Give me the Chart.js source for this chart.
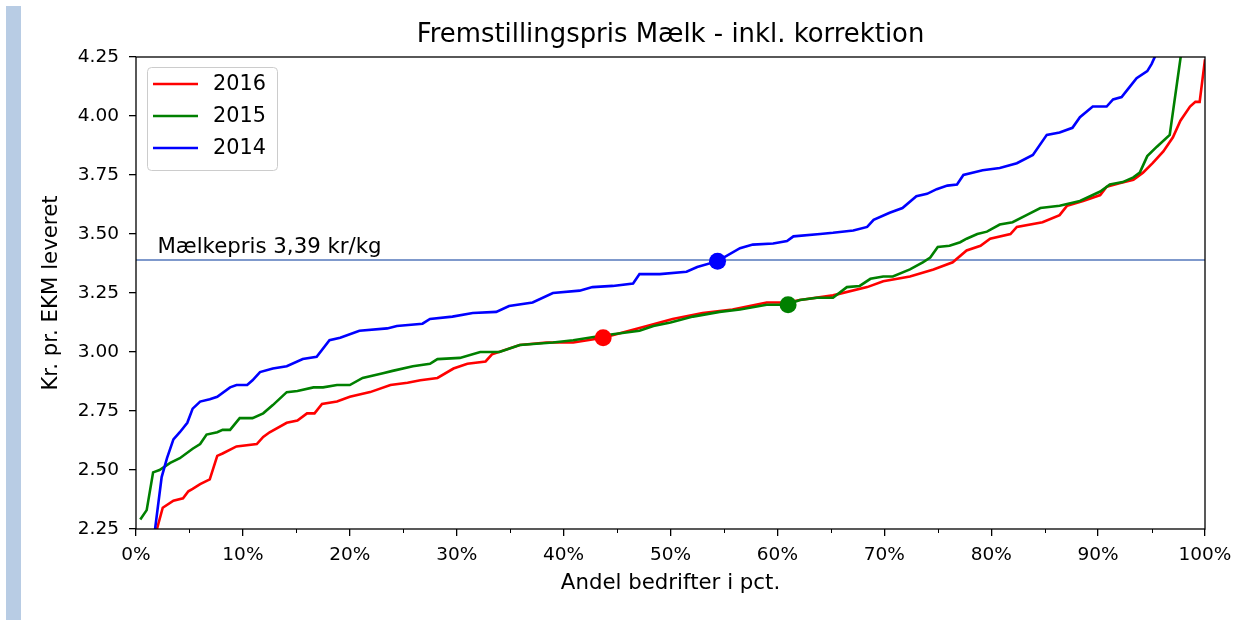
<!DOCTYPE html>
<html>
<head>
<meta charset="utf-8">
<script src="https://cdn.jsdelivr.net/npm/chart.js@4.4.1/dist/chart.umd.min.js"></script>
<style>
    html, body { margin: 0; padding: 0; background: #fff; }
    #wrap { width: 1236px; height: 623px; position: relative; }
</style>
</head>
<body>
<div id="wrap"><canvas id="myChart"></canvas></div>
<script>
// andel bedrifter (%) -> kr. pr. kg EKM
var x2016 = [1.96, 2.5, 3.5, 4.4, 4.9, 5.3, 6.0, 6.9, 7.6, 8.1, 9.4, 11.3, 11.9, 12.5, 14.1, 15.1, 16.0, 16.7, 17.4, 18.8, 20.0, 21.9, 23.8, 25.4, 26.6, 28.2, 29.7, 31.0, 32.7, 33.3, 35.9, 38.4, 40.9, 43.7, 47.8, 50.2, 53.0, 55.8, 59.0, 60.9, 62.1, 65.2, 68.4, 69.9, 72.4, 74.6, 76.4, 77.7, 79.0, 79.9, 81.8, 82.4, 84.8, 86.4, 87.1, 88.6, 90.2, 90.8, 92.0, 93.3, 94.2, 95.1, 96.1, 97.0, 97.7, 98.6, 99.1, 99.5, 100];
var y2016 = [2.25, 2.34, 2.37, 2.38, 2.41, 2.42, 2.44, 2.46, 2.56, 2.57, 2.60, 2.61, 2.64, 2.66, 2.70, 2.71, 2.74, 2.74, 2.78, 2.79, 2.81, 2.83, 2.86, 2.87, 2.88, 2.89, 2.93, 2.95, 2.96, 2.99, 3.03, 3.04, 3.04, 3.06, 3.11, 3.14, 3.165, 3.18, 3.21, 3.21, 3.22, 3.24, 3.275, 3.30, 3.32, 3.35, 3.38, 3.43, 3.45, 3.48, 3.50, 3.53, 3.55, 3.58, 3.62, 3.64, 3.665, 3.70, 3.715, 3.73, 3.76, 3.80, 3.85, 3.91, 3.98, 4.04, 4.06, 4.06, 4.24];

var x2015 = [0.4, 1.0, 1.6, 2.2, 3.2, 4.1, 5.3, 6.0, 6.6, 7.6, 8.1, 8.8, 9.7, 10.9, 11.9, 12.8, 14.1, 15.1, 16.6, 17.5, 18.8, 20.0, 21.2, 23.1, 24.0, 25.9, 27.5, 28.2, 30.3, 32.2, 34.0, 35.9, 39.0, 40.9, 43.7, 47.1, 48.4, 50.0, 52.1, 54.6, 56.5, 59.0, 60.9, 62.1, 63.7, 65.2, 66.5, 67.7, 68.7, 69.9, 70.8, 72.4, 73.6, 74.3, 75.0, 76.1, 77.1, 77.7, 78.7, 79.6, 80.8, 82.0, 83.3, 84.6, 86.4, 88.3, 90.2, 91.1, 92.3, 93.3, 93.9, 94.6, 95.5, 96.7, 98.5];
var y2015 = [2.29, 2.33, 2.49, 2.50, 2.53, 2.55, 2.59, 2.61, 2.65, 2.66, 2.67, 2.67, 2.72, 2.72, 2.74, 2.775, 2.83, 2.835, 2.85, 2.85, 2.86, 2.86, 2.89, 2.91, 2.92, 2.94, 2.95, 2.97, 2.975, 3.00, 3.00, 3.03, 3.04, 3.05, 3.07, 3.09, 3.11, 3.125, 3.15, 3.17, 3.18, 3.20, 3.20, 3.22, 3.23, 3.23, 3.275, 3.28, 3.31, 3.32, 3.32, 3.35, 3.38, 3.40, 3.445, 3.45, 3.465, 3.48, 3.50, 3.51, 3.54, 3.55, 3.58, 3.61, 3.62, 3.64, 3.68, 3.71, 3.72, 3.74, 3.76, 3.83, 3.87, 3.92, 4.5];

var x2014 = [1.7, 2.4, 2.9, 3.5, 4.1, 4.8, 5.3, 6.0, 6.9, 7.6, 8.8, 9.4, 10.4, 10.9, 11.6, 12.8, 14.1, 15.6, 16.9, 18.1, 19.1, 20.9, 23.5, 24.4, 26.8, 27.5, 29.6, 31.5, 33.7, 34.9, 37.1, 39.0, 41.5, 42.7, 44.6, 46.5, 47.1, 49.0, 51.5, 52.5, 54.4, 56.5, 57.7, 59.6, 60.9, 61.5, 64.0, 65.2, 67.1, 68.4, 69.0, 70.5, 71.7, 73.0, 74.0, 74.9, 75.9, 76.8, 77.4, 79.2, 80.8, 82.4, 83.9, 85.2, 86.4, 87.6, 88.3, 89.5, 90.8, 91.4, 92.2, 92.9, 93.6, 94.6, 95.0, 95.3, 96.0];
var y2014 = [2.22, 2.47, 2.55, 2.63, 2.66, 2.70, 2.76, 2.79, 2.80, 2.81, 2.85, 2.86, 2.86, 2.88, 2.915, 2.93, 2.94, 2.97, 2.98, 3.05, 3.06, 3.09, 3.10, 3.11, 3.12, 3.14, 3.15, 3.165, 3.17, 3.195, 3.21, 3.25, 3.26, 3.275, 3.28, 3.29, 3.33, 3.33, 3.34, 3.36, 3.385, 3.44, 3.455, 3.46, 3.47, 3.49, 3.50, 3.505, 3.515, 3.53, 3.56, 3.59, 3.61, 3.66, 3.67, 3.69, 3.705, 3.71, 3.75, 3.77, 3.78, 3.80, 3.835, 3.92, 3.93, 3.95, 3.995, 4.04, 4.04, 4.07, 4.08, 4.12, 4.16, 4.19, 4.22, 4.25, 4.40];

// gennemsnitsbedrift markeret med prik
var markX = [43.7, 61.0, 54.4];
var markY = [3.06, 3.20, 3.385];

var milkPrice = 3.39;
var milkLabel = "Mælkepris 3,39 kr/kg";
var chartTitle = "Fremstillingspris Mælk - inkl. korrektion";
var years = ["2016", "2015", "2014"];
var colors = ["#ff0000", "#008000", "#0000ff"];

var FONT = "'DejaVu Sans', sans-serif";

function pts(xs, ys) {
    return xs.map(function (x, i) { return { x: x, y: ys[i] }; });
}

var lineSets = [[x2016, y2016], [x2015, y2015], [x2014, y2014]].map(function (s, i) {
    return {
        label: years[i],
        data: pts(s[0], s[1]),
        borderColor: colors[i],
        backgroundColor: colors[i],
        borderWidth: 2.6,
        pointRadius: 0,
        tension: 0,
        clip: 0,
        order: 3 - i,
        isYear: true
    };
});

var dotSets = markX.map(function (x, i) {
    return {
        type: "scatter",
        data: [{ x: x, y: markY[i] }],
        backgroundColor: colors[i],
        borderColor: colors[i],
        pointRadius: 8.5,
        borderWidth: 0,
        order: 0
    };
});

var priceSet = {
    data: [{ x: 0, y: milkPrice }, { x: 100, y: milkPrice }],
    borderColor: "#5577bb",
    borderWidth: 1.6,
    pointRadius: 0,
    clip: 0,
    order: 5
};

const extras = {
    id: "extras",
    beforeDraw(chart) {
        const ctx = chart.ctx;
        ctx.save();
        ctx.fillStyle = "#b8cce4";
        ctx.fillRect(6, 6, 15, 614);
        ctx.restore();
    },
    afterDatasetsDraw(chart) {
        const ctx = chart.ctx;
        const a = chart.chartArea;
        const xs = chart.scales.x, ys = chart.scales.y;
        ctx.save();

        // titel
        ctx.fillStyle = "#000";
        ctx.font = "25.9px " + FONT;
        ctx.textAlign = "center";
        ctx.textBaseline = "middle";
        ctx.fillText(chartTitle, (a.left + a.right) / 2, 35);

        // pris-label
        ctx.font = "21.3px " + FONT;
        ctx.textAlign = "left";
        ctx.textBaseline = "alphabetic";
        ctx.fillText(milkLabel, xs.getPixelForValue(2), ys.getPixelForValue(milkPrice) - 7);

        // ramme
        ctx.strokeStyle = "#000";
        ctx.lineWidth = 1.3;
        ctx.strokeRect(a.left, a.top, a.right - a.left, a.bottom - a.top);

        // små ticks
        ctx.beginPath();
        for (let v = 5; v < 100; v += 10) {
            const px = Math.round(xs.getPixelForValue(v)) + 0.5;
            ctx.moveTo(px, a.bottom);
            ctx.lineTo(px, a.bottom + 4);
        }
        ctx.lineWidth = 1;
        ctx.stroke();

        // legend
        const lx = a.left + 11, ly = a.top + 10, lw = 130, lh = 103;
        ctx.beginPath();
        ctx.roundRect(lx + 0.5, ly + 0.5, lw, lh, 4);
        ctx.fillStyle = "rgba(255,255,255,0.85)";
        ctx.fill();
        ctx.strokeStyle = "#cccccc";
        ctx.lineWidth = 1;
        ctx.stroke();
        const items = chart.data.datasets.filter(function (d) { return d.isYear; });
        ctx.font = "20.8px " + FONT;
        ctx.textBaseline = "middle";
        items.forEach(function (d, i) {
            const cy = ly + 17 + i * 32;
            ctx.beginPath();
            ctx.moveTo(lx + 6, cy);
            ctx.lineTo(lx + 51, cy);
            ctx.strokeStyle = d.borderColor;
            ctx.lineWidth = 2.6;
            ctx.stroke();
            ctx.fillStyle = "#000";
            ctx.fillText(d.label, lx + 66, cy + 1);
        });
        ctx.restore();
    }
};

new Chart("myChart", {
    type: "line",
    data: { datasets: dotSets.concat(lineSets, [priceSet]) },
    plugins: [extras],
    options: {
        responsive: true,
        maintainAspectRatio: false,
        animation: false,
        layout: { padding: { left: 0, right: 31, top: 57, bottom: 0 } },
        plugins: {
            legend: { display: false },
            tooltip: { enabled: false },
            title: { display: false }
        },
        scales: {
            x: {
                type: "linear",
                min: 0,
                max: 100,
                afterFit: function (s) { s.height = 94; s.paddingLeft = 0; s.paddingRight = 0; },
                border: { display: false },
                grid: { drawOnChartArea: false, drawTicks: true, tickLength: 7, color: "#000", lineWidth: 1.3 },
                ticks: {
                    stepSize: 10,
                    maxRotation: 0,
                    padding: 8,
                    color: "#000",
                    font: { family: FONT, size: 18.5 },
                    callback: function (v) { return v + "%"; }
                },
                title: {
                    display: true,
                    text: "Andel bedrifter i pct.",
                    color: "#000",
                    font: { family: FONT, size: 21.3 },
                    padding: { top: 0, bottom: 27 }
                }
            },
            y: {
                min: 2.25,
                max: 4.25,
                afterFit: function (s) { s.width = 136; s.paddingTop = 0; s.paddingBottom = 0; },
                border: { display: false },
                grid: { drawOnChartArea: false, drawTicks: true, tickLength: 7, color: "#000", lineWidth: 1.3 },
                ticks: {
                    stepSize: 0.25,
                    padding: 10,
                    color: "#000",
                    font: { family: FONT, size: 18.5 },
                    callback: function (v) { return v.toFixed(2); }
                },
                title: {
                    display: true,
                    text: "Kr. pr. EKM leveret",
                    color: "#000",
                    font: { family: FONT, size: 21.3 },
                    padding: { top: 39, bottom: 0 }
                }
            }
        }
    }
});
</script>
</body>
</html>
